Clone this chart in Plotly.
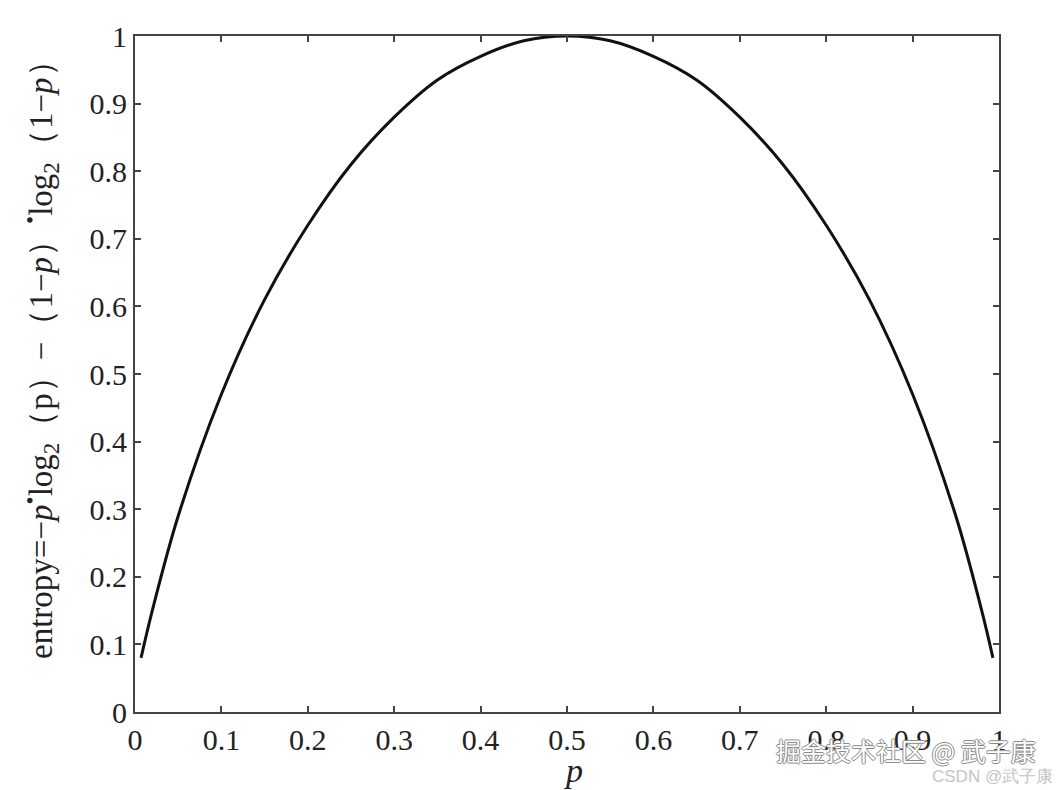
import plotly.graph_objects as go

# values
p_vals = [0.007, 0.02, 0.05, 0.1, 0.15, 0.2, 0.25, 0.3, 0.35, 0.4, 0.45, 0.5,
          0.55, 0.6, 0.65, 0.7, 0.75, 0.8, 0.85, 0.9, 0.95, 0.98, 0.993]
entropy_vals = [0.08, 0.15, 0.29, 0.47, 0.61, 0.72, 0.81, 0.88, 0.935, 0.97, 0.993, 1.0,
                0.993, 0.97, 0.935, 0.88, 0.81, 0.72, 0.61, 0.47, 0.29, 0.15, 0.08]
tick_vals = [0, 0.1, 0.2, 0.3, 0.4, 0.5, 0.6, 0.7, 0.8, 0.9, 1]
tick_text = ["0", "0.1", "0.2", "0.3", "0.4", "0.5", "0.6", "0.7", "0.8", "0.9", "1"]

fig = go.Figure()
fig.add_trace(go.Scatter(x=p_vals, y=entropy_vals, mode="lines",
                         line=dict(color="#111111", width=3, shape="spline"),
                         showlegend=False, hoverinfo="skip"))

axis_common = dict(range=[0, 1], tickvals=tick_vals, ticktext=tick_text,
                   ticks="inside", ticklen=6, tickwidth=2, tickcolor="#444",
                   showline=True, linecolor="#444", linewidth=2, mirror="ticks",
                   showgrid=False, zeroline=False,
                   tickfont=dict(family="Liberation Serif", size=30, color="#222"))

fig.update_layout(
    width=1052, height=782,
    margin=dict(l=127, r=61, t=28, b=78),
    paper_bgcolor="white", plot_bgcolor="white",
    font=dict(family="Liberation Serif", color="#222"),
    xaxis=dict(**axis_common),
    yaxis=dict(**axis_common),
)

# axis titles
fig.add_annotation(text="<i>p</i>", xref="paper", yref="paper", x=0.508, y=-0.086,
                   xanchor="center", yanchor="middle", showarrow=False,
                   font=dict(family="Liberation Serif", size=34, color="#222"))
fig.add_annotation(text="entropy=−<i>p</i><sup>•</sup>log<sub>2</sub>（p）−（1−<i>p</i>）<sup>•</sup>log<sub>2</sub>（1−<i>p</i>）",
                   xref="paper", yref="paper", x=-0.11, y=0.534, textangle=-90,
                   xanchor="center", yanchor="middle", showarrow=False,
                   font=dict(family="Liberation Serif", size=33, color="#222"))

# watermarks
fig.add_annotation(text="掘金技术社区 @ 武子康", xref="paper", yref="paper",
                   x=1.045, y=-0.056, xanchor="right", yanchor="middle", showarrow=False,
                   font=dict(family="Noto Sans CJK SC", size=25, color="#ffffff",
                             shadow="1px 0 0 #8a8a8a, -1px 0 0 #8a8a8a, 0 1px 0 #8a8a8a, 0 -1px 0 #8a8a8a"))
fig.add_annotation(text="CSDN @武子康", xref="paper", yref="paper",
                   x=1.065, y=-0.095, xanchor="right", yanchor="middle", showarrow=False,
                   font=dict(family="Liberation Sans", size=17, color="#c4c4c4"))

fig.write_html("out.html")
